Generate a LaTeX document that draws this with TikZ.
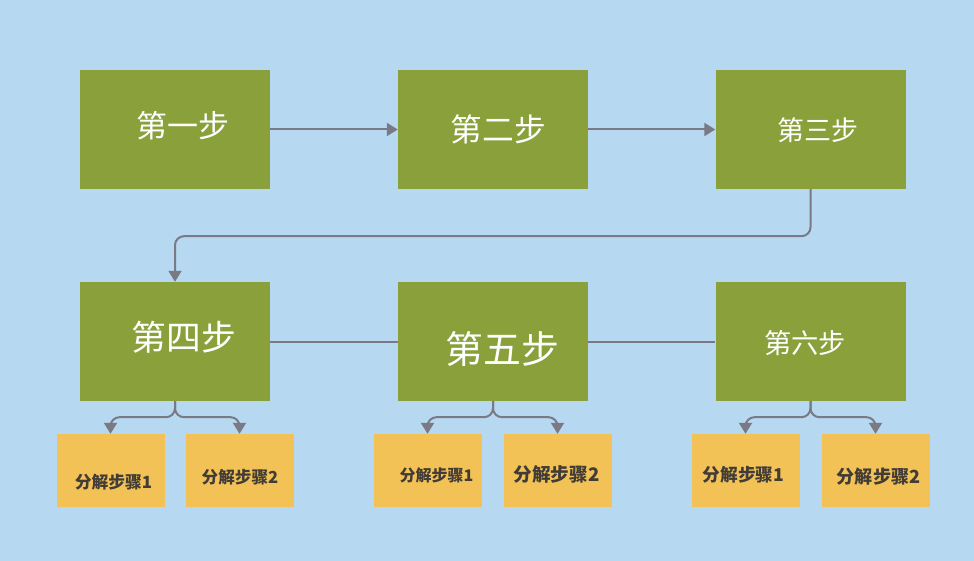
\documentclass[tikz,border=0pt]{standalone}
\usepackage{fontspec}
\newfontfamily\cjk{Noto Sans CJK SC}
\usetikzlibrary{arrows.meta}
\definecolor{bgblue}{RGB}{182,216,241}
\definecolor{stepgreen}{RGB}{138,160,58}
\definecolor{subyellow}{RGB}{243,194,86}
\definecolor{linegray}{RGB}{122,122,132}
\definecolor{subtext}{RGB}{66,60,54}
\tikzset{
  stepbox/.style={fill=stepgreen, draw=none, minimum width=190pt, minimum height=119pt, inner sep=0pt},
  subbox/.style={fill=subyellow, draw=none, minimum width=108pt, minimum height=73pt, inner sep=0pt},
  steptext/.style={text=white, inner sep=0pt},
  subtxt/.style={text=subtext, inner sep=0pt},
  conn/.style={draw=linegray, line width=2pt},
  tip/.style={-{Triangle[length=11pt,width=13pt]}},
}
\newcommand\gsz[1]{\cjk\fontsize{#1pt}{#1pt}\selectfont}
\newcommand\ysz[1]{\cjk\bfseries\fontsize{#1pt}{#1pt}\selectfont}
\begin{document}
\begin{tikzpicture}[x=1pt,y=-1pt]
\fill[bgblue] (0,0) rectangle (974,561);
\useasboundingbox (0,0) rectangle (974,561);
% steps
\node[stepbox, label={[steptext, font=\gsz{31}, xshift=7.5pt, yshift=3.5pt]center:第一步}] (s1) at (175,129.5) {};
\node[stepbox, label={[steptext, font=\gsz{31.7}, xshift=5.5pt, yshift=0.5pt]center:第二步}] (s2) at (493,129.5) {};
\node[stepbox, label={[steptext, font=\gsz{27}, xshift=7pt, yshift=-1pt]center:第三步}] (s3) at (810.5,129.5) {};
\node[stepbox, label={[steptext, font=\gsz{34.8}, xshift=9pt, yshift=4.5pt]center:第四步}] (s4) at (175,341.5) {};
\node[stepbox, label={[steptext, font=\gsz{37.9}, xshift=9.5pt, yshift=-8pt]center:第五步}] (s5) at (493,341.5) {};
\node[stepbox, label={[steptext, font=\gsz{27.3}, xshift=-5.5pt, yshift=-2pt]center:第六步}] (s6) at (810.5,341.5) {};
% sub steps
\node[subbox, label={[subtxt, font=\ysz{16.8}, xshift=3pt, yshift=-12pt]center:分解步骤1}] (a1) at (110.5,470.5) {};
\node[subbox, label={[subtxt, font=\ysz{16.6}, xshift=0.5pt, yshift=-7pt]center:分解步骤2}] (a2) at (239.5,470.5) {};
\node[subbox, label={[subtxt, font=\ysz{16}, xshift=9pt, yshift=-4.5pt]center:分解步骤1}] (b1) at (427.5,470.5) {};
\node[subbox, label={[subtxt, font=\ysz{18.6}, xshift=-1pt, yshift=-3.5pt]center:分解步骤2}] (b2) at (557.5,470.5) {};
\node[subbox, label={[subtxt, font=\ysz{17.7}, xshift=-2pt, yshift=-4.5pt]center:分解步骤1}] (c1) at (745.5,470.5) {};
\node[subbox, label={[subtxt, font=\ysz{18.1}, xshift=3pt, yshift=-6.5pt]center:分解步骤2}] (c2) at (875.5,470.5) {};
% connectors
\draw[conn, tip] (s1.east) -- (s2.west);
\draw[conn, tip] (s2.east) -- (s3.west);
\draw[conn, tip, rounded corners=9pt] (s3.south) -- ++(0,47) -| (s4.north);
\draw[conn] (s4.east) -- (s5.west);
\draw[conn] (s5.east) -- (s6.west);
\foreach \p/\l/\r in {s4/a1/a2, s5/b1/b2, s6/c1/c2}{
  \draw[conn, tip, rounded corners=9pt] (\p.south) -- ++(0,16) -| (\l.north);
  \draw[conn, tip, rounded corners=9pt] (\p.south) -- ++(0,16) -| (\r.north);
}
\end{tikzpicture}
\end{document}
